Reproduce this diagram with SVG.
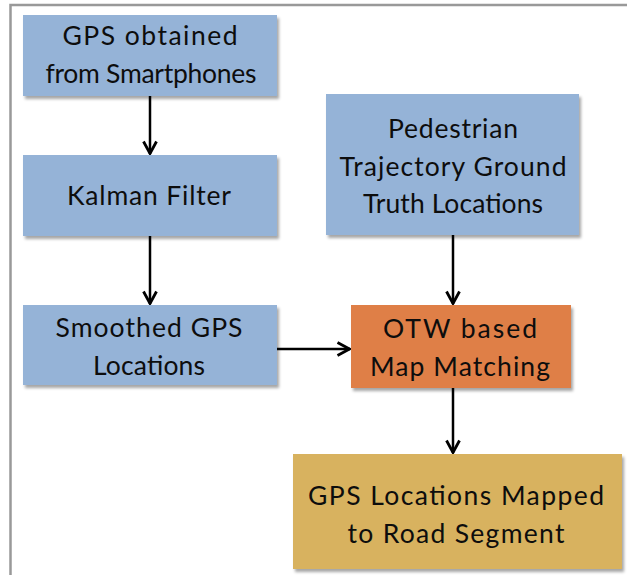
<svg xmlns="http://www.w3.org/2000/svg" width="627" height="575" viewBox="0 0 627 575">
<style>
.t{font-family:Lato,"DejaVu Sans",sans-serif;font-size:26.5px;fill:#0d0d0d;text-anchor:middle}
.blue{fill:#95B3D7}
.orange{fill:#DF7F46}
.gold{fill:#D8B25E}
.c{stroke:#000;stroke-width:2.5;fill:none}
</style>
<defs>
<filter id="sh" x="-10%" y="-10%" width="130%" height="140%">
<feDropShadow dx="2" dy="3" stdDeviation="1.5" flood-color="#000" flood-opacity="0.35"/>
</filter>
<marker id="ah" viewBox="0 0 16 16" refX="14.5" refY="8" markerWidth="16" markerHeight="16" markerUnits="userSpaceOnUse" orient="auto">
<path d="M2,1.5 L14,8 L2,14.5" fill="none" stroke="#000" stroke-width="2.8"/>
</marker>
</defs>
<rect width="627" height="575" fill="#fff"/>
<path d="M10.5,575 V5 H627" fill="none" stroke="#999" stroke-width="2.5"/>
<g id="connectors">
<line class="c" x1="150" y1="96" x2="150" y2="154" marker-end="url(#ah)"/>
<line class="c" x1="150" y1="236" x2="150" y2="304" marker-end="url(#ah)"/>
<line class="c" x1="453" y1="235" x2="453" y2="304" marker-end="url(#ah)"/>
<line class="c" x1="277" y1="349" x2="350" y2="349" marker-end="url(#ah)"/>
<line class="c" x1="453" y1="388" x2="453" y2="453" marker-end="url(#ah)"/>
</g>
<g id="gps">
<rect class="blue" x="23" y="15" width="254" height="81" filter="url(#sh)"/>
<text class="t" x="150" y="45" textLength="175" lengthAdjust="spacing">GPS obtained</text>
<text class="t" x="151" y="83" textLength="211" lengthAdjust="spacing">from Smartphones</text>
</g>
<g id="kalman">
<rect class="blue" x="23" y="155" width="254" height="81" filter="url(#sh)"/>
<text class="t" x="149" y="205" textLength="164" lengthAdjust="spacing">Kalman Filter</text>
</g>
<g id="smoothed">
<rect class="blue" x="23" y="305" width="254" height="80" filter="url(#sh)"/>
<text class="t" x="149" y="337" textLength="187" lengthAdjust="spacing">Smoothed GPS</text>
<text class="t" x="149" y="375" textLength="112" lengthAdjust="spacing">Locations</text>
</g>
<g id="pedestrian">
<rect class="blue" x="326" y="94" width="253" height="141" filter="url(#sh)"/>
<text class="t" x="453" y="138" textLength="130" lengthAdjust="spacing">Pedestrian</text>
<text class="t" x="453" y="176" textLength="227" lengthAdjust="spacing">Trajectory Ground</text>
<text class="t" x="453" y="213" textLength="180" lengthAdjust="spacing">Truth Locations</text>
</g>
<g id="otw">
<rect class="orange" x="351" y="305" width="220" height="83" filter="url(#sh)"/>
<text class="t" x="460" y="338" textLength="154" lengthAdjust="spacing">OTW based</text>
<text class="t" x="460" y="376" textLength="180" lengthAdjust="spacing">Map Matching</text>
</g>
<g id="mapped">
<rect class="gold" x="293" y="454" width="329" height="115" filter="url(#sh)"/>
<text class="t" x="456" y="505" textLength="296" lengthAdjust="spacing">GPS Locations Mapped</text>
<text class="t" x="456" y="543" textLength="217" lengthAdjust="spacing">to Road Segment</text>
</g>
</svg>
